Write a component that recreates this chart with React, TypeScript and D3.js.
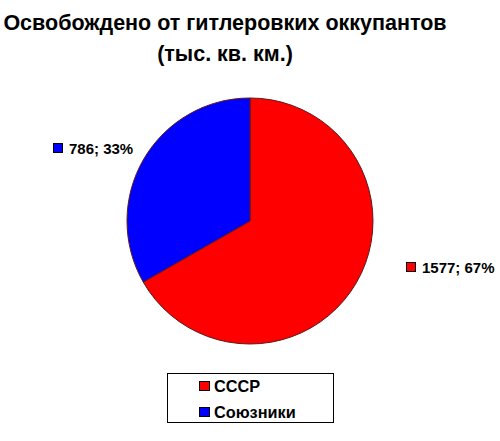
import React from "react";
import * as d3 from "d3";

const categories = ["СССР", "Союзники"];
const values = [1577, 786];
const percents = ["67%", "33%"];
const colors = ["#FF0000", "#0000FF"];
const titleLines = ["Освобождено от гитлеровких оккупантов", "(тыс. кв. км.)"];

const W = 500;
const H = 441;
const cx = 250;
const cy = 221;
const R = 123;
const font = "'Liberation Sans', Arial, sans-serif";

export default function App() {
  const pie = d3.pie<number>().sort(null).value((d) => d);
  const arcs = pie(values);
  const arc = d3.arc<d3.PieArcDatum<number>>().innerRadius(0).outerRadius(R);

  const labelPos = [
    { x: 406, y: 262 },
    { x: 53, y: 143 },
  ];

  return (
    <svg
      width={W}
      height={H}
      style={{ position: "absolute", left: 0, top: 0, display: "block", background: "#fff" }}
    >
      <rect width={W} height={H} fill="#fff" />
      {titleLines.map((t, i) => (
        <text
          key={i}
          x={225}
          y={30 + i * 31}
          textAnchor="middle"
          fontFamily={font}
          fontWeight="bold"
          fontSize={21.5}
          fill="#000"
        >
          {t}
        </text>
      ))}
      <g transform={`translate(${cx},${cy})`}>
        {arcs.map((a, i) => (
          <path key={i} d={arc(a) || ""} fill={colors[i]} stroke="#5a1a1a" strokeWidth={1} />
        ))}
      </g>
      {arcs.map((a, i) => (
        <g key={"l" + i}>
          <rect
            x={labelPos[i].x + 0.5}
            y={labelPos[i].y + 0.5}
            width={9}
            height={9}
            fill={colors[i]}
            stroke="#000"
            strokeWidth={1}
          />
          <text
            x={labelPos[i].x + 16}
            y={labelPos[i].y + 10.5}
            fontFamily={font}
            fontWeight="bold"
            fontSize={15}
            fill="#000"
          >
            {`${values[i]}; ${percents[i]}`}
          </text>
        </g>
      ))}
      <rect x={167.5} y={373.5} width={166} height={49} fill="#fff" stroke="#000" strokeWidth={1} />
      {categories.map((c, i) => (
        <g key={"lg" + i}>
          <rect
            x={199.5}
            y={381.5 + i * 26}
            width={10}
            height={9}
            fill={colors[i]}
            stroke="#000"
            strokeWidth={1}
          />
          <text
            x={214}
            y={392 + i * 26}
            fontFamily={font}
            fontWeight="bold"
            fontSize={16.3}
            fill="#000"
          >
            {c}
          </text>
        </g>
      ))}
    </svg>
  );
}
